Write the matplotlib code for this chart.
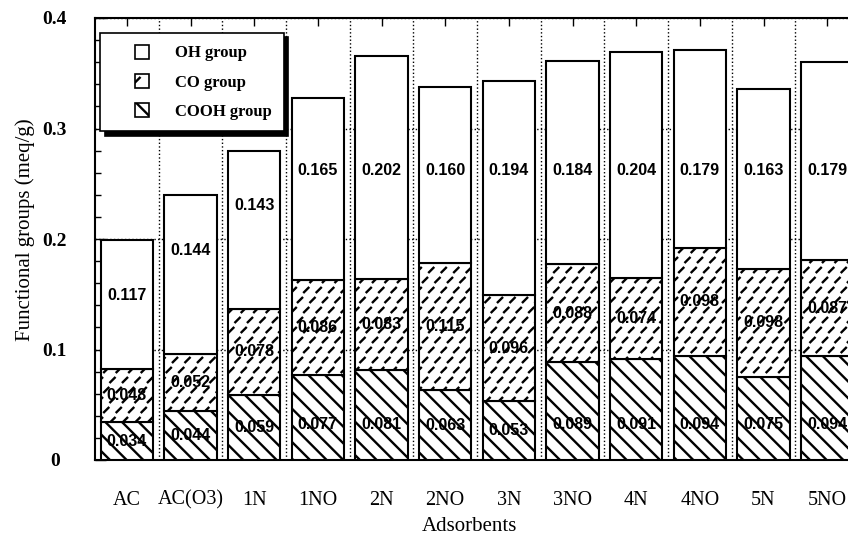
import numpy as np
import matplotlib
matplotlib.use("Agg")
import matplotlib.pyplot as plt
import matplotlib.hatch as mhatch
from matplotlib.path import Path
from matplotlib.patches import Patch, Rectangle
from matplotlib.legend_handler import HandlerPatch

# adsorbents and functional group amounts (meq/g)
adsorbents = ['AC', 'AC(O3)', '1N', '1NO', '2N', '2NO', '3N', '3NO', '4N', '4NO', '5N', '5NO']
cooh = [0.034, 0.044, 0.059, 0.077, 0.081, 0.063, 0.053, 0.089, 0.091, 0.094, 0.075, 0.094]
co = [0.048, 0.052, 0.078, 0.086, 0.083, 0.115, 0.096, 0.088, 0.074, 0.098, 0.098, 0.087]
oh = [0.117, 0.144, 0.143, 0.165, 0.202, 0.160, 0.194, 0.184, 0.204, 0.179, 0.163, 0.179]


# short slanted dashes for the CO group (takes the place of the '*' hatch)
class Dashes(mhatch.HatchPatternBase):
    def __init__(self, hatch, density):
        k = hatch.count('*')
        self.rows = k * 5
        self.cols = k * 4
        self.centers = []
        if k:
            for r in range(self.rows + 1):
                if r % 2 == 0:
                    xs = [c / self.cols for c in range(self.cols + 1)]
                else:
                    xs = [(c + 0.5) / self.cols for c in range(self.cols)]
                for cx in xs:
                    self.centers.append((cx, r / self.rows))
        self.num_vertices = len(self.centers) * 2

    def set_vertices_and_codes(self, vertices, codes):
        d = 0.022
        c = np.array(self.centers)
        v = np.empty((len(c) * 2, 2))
        v[0::2] = c - d
        v[1::2] = c + d
        vertices[:] = v
        codes[0::2] = Path.MOVETO
        codes[1::2] = Path.LINETO


mhatch._hatch_types = [h for h in mhatch._hatch_types if h is not mhatch.Stars] + [Dashes]

plt.rcParams['hatch.linewidth'] = 1.7
plt.rcParams['font.family'] = ['Liberation Serif', 'DejaVu Serif']

x = np.arange(len(adsorbents))
cooh = np.array(cooh)
co = np.array(co)
oh = np.array(oh)

fig = plt.figure(figsize=(8.48, 5.38), dpi=100)
ax = fig.add_axes([95 / 848, 78 / 538, 764 / 848, 442 / 538])

w = 0.82
kw = dict(width=w, color='white', edgecolor='black', linewidth=1.5, zorder=3)
ax.bar(x, cooh, hatch='\\\\', **kw)
ax.bar(x, co, bottom=cooh, hatch='**', **kw)
ax.bar(x, oh, bottom=cooh + co, **kw)

lab = dict(ha='center', va='center', fontsize=11.5, fontweight='bold',
           family=['Liberation Sans', 'DejaVu Sans'], zorder=5)
for i in range(len(x)):
    top = cooh[i] + co[i] + oh[i]
    ax.text(x[i], min(cooh[i] / 2, 0.032), f'{cooh[i]:.3f}', **lab)
    ax.text(x[i], cooh[i] + co[i] / 2, f'{co[i]:.3f}', **lab)
    ax.text(x[i], min(0.262, top - 0.05), f'{oh[i]:.3f}', **lab)

ax.set_xlim(-0.5, len(x) - 0.5)
ax.set_ylim(0, 0.4)
ax.set_yticks([0, 0.1, 0.2, 0.3, 0.4])
ax.set_yticklabels(['0', '0.1', '0.2', '0.3', '0.4'], fontsize=14, fontweight='bold', ha='center')
ax.set_yticks(np.arange(0, 0.4, 0.02), minor=True)
ax.set_xticks(x)
ax.set_xticklabels(adsorbents, fontsize=14.5)
ax.set_xticks(x[:-1] + 0.5, minor=True)
ax.tick_params(axis='y', which='major', direction='in', length=8, width=1, pad=29)
ax.tick_params(axis='y', which='minor', direction='in', length=4, width=1)
ax.tick_params(axis='x', which='major', direction='in', length=6, width=1, pad=22, top=True)
ax.tick_params(axis='x', which='minor', length=0)
ax.grid(True, axis='y', which='major', linestyle=':', color='black', linewidth=1, zorder=1)
ax.grid(True, axis='x', which='minor', linestyle=':', color='black', linewidth=1, zorder=1)
for s in ax.spines.values():
    s.set_linewidth(1.5)

ax.set_ylabel('Functional groups (meq/g)', fontsize=15)
ax.yaxis.set_label_coords(-0.078, 0.52)
ax.set_xlabel('Adsorbents', fontsize=15)
ax.xaxis.set_label_coords(0.49, -0.128)


def small_box(legend, orig_handle, xdescent, ydescent, width, height, fontsize):
    s = 10
    return Rectangle((-xdescent + width - s, -ydescent + (height - s) / 2), s, s)


handles = [Patch(facecolor='white', edgecolor='black', linewidth=1.2, label='OH group'),
           Patch(facecolor='white', edgecolor='black', linewidth=1.2, hatch='*', label='CO group'),
           Patch(facecolor='white', edgecolor='black', linewidth=1.2, hatch='\\\\', label='COOH group')]
leg = ax.legend(handles=handles, loc='upper left', bbox_to_anchor=(0.007, 0.966),
                borderaxespad=0, handler_map={Patch: HandlerPatch(patch_func=small_box)},
                prop={'family': 'Liberation Serif', 'weight': 'bold', 'size': 12},
                handlelength=2.2, handleheight=0.9, handletextpad=1.6, borderpad=0.7,
                labelspacing=0.75, fancybox=False, framealpha=1, edgecolor='black',
                shadow={'color': 'black', 'alpha': 1, 'ox': 3, 'oy': -3})
leg.get_frame().set_linewidth(1.2)
leg.set_zorder(10)

fig.savefig('out.png', dpi=100)
